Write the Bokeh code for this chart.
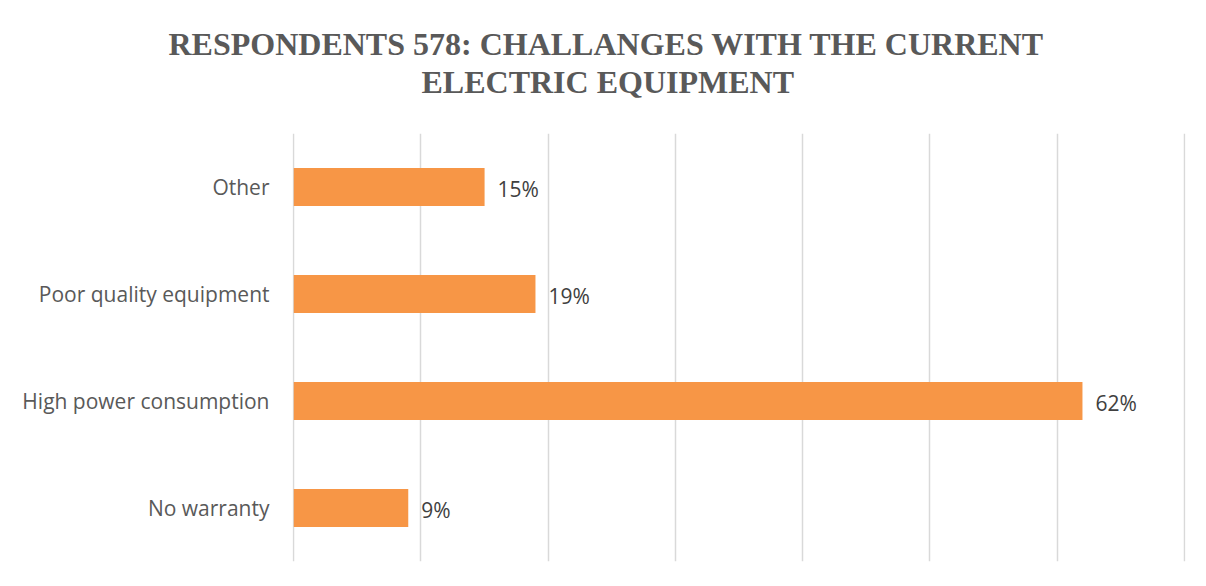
from bokeh.plotting import figure
from bokeh.models import Range1d, FactorRange, ColumnDataSource, Title
from bokeh.core.properties import value
from bokeh.embed import file_html
from bokeh.resources import INLINE

categories = ["No warranty", "High power consumption", "Poor quality equipment", "Other"]
percentages = [9, 62, 19, 15]
labels = ["9%", "62%", "19%", "15%"]
x_ticks = [0, 10, 20, 30, 40, 50, 60, 70]
title_lines = ["RESPONDENTS 578: CHALLANGES WITH THE CURRENT", "ELECTRIC EQUIPMENT"]
title_left_px = [168, 421]

source = ColumnDataSource(dict(cat=categories, val=percentages, lab=labels))

LEFT = 292
p = figure(width=1190, height=570, output_backend="svg", toolbar_location=None,
           y_range=FactorRange(*categories), x_range=Range1d(-0.1, 70.1),
           min_border_left=LEFT, min_border_right=5, min_border_top=133,
           min_border_bottom=9, title=None)

# spacer between the title and the plot area
p.add_layout(Title(text=" ", text_font_size="2px", standoff=30), "above")
for line, lx in reversed(list(zip(title_lines, title_left_px))):
    t = Title(text=line, align="left", offset=lx - LEFT,
              text_font="Liberation Serif", text_font_style="bold",
              text_font_size="32px", text_color="#595959", standoff=0)
    p.add_layout(t, "above")

p.hbar(y="cat", right="val", left=0, height=0.355, source=source,
       fill_color="#F79646", line_color=None)
p.text(x="val", y="cat", text="lab", source=source, x_offset=13, y_offset=2,
       text_baseline="middle", text_align="left", text_font=value("Open Sans"),
       text_font_size="21px", text_color="#404040")

p.outline_line_color = None
p.xaxis.visible = False
p.xaxis.ticker = x_ticks
p.xgrid.ticker = x_ticks
p.xgrid.grid_line_color = "#d9d9d9"
p.xgrid.grid_line_width = 1.5
p.ygrid.grid_line_color = None

p.yaxis.axis_line_color = None
p.yaxis.major_tick_line_color = None
p.yaxis.major_tick_out = 0
p.yaxis.minor_tick_line_color = None
p.yaxis.major_label_standoff = 23
p.yaxis.major_label_text_font = "Open Sans"
p.yaxis.major_label_text_font_size = "21px"
p.yaxis.major_label_text_color = "#595959"

open("out.html", "w").write(file_html(p, INLINE))
